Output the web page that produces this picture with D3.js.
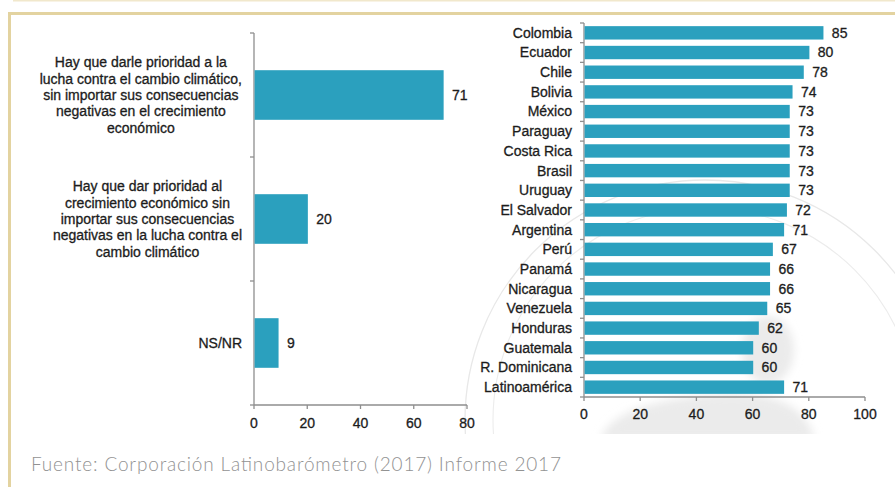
<!DOCTYPE html>
<html>
<head>
<meta charset="utf-8">
<script src="https://cdn.jsdelivr.net/npm/d3@7"></script>
<style>
  html, body { margin: 0; padding: 0; background: #ffffff; }
  svg { display: block; }
  .lbl { font-family: "Liberation Sans", Arial, sans-serif; font-size: 14px; fill: #1c1c1c;
         stroke: #1c1c1c; stroke-width: 0.3px; }
  .src { font-family: Lato, "Open Sans", sans-serif; font-weight: 300; font-size: 19px; fill: #929292; }
</style>
</head>
<body>
<svg id="chart" width="895" height="487"></svg>
<script>
// Opinion question: priority between climate action and economic growth (%)
const opinionLabels = [
  ["Hay que darle prioridad a la", "lucha contra el cambio climático,", "sin importar sus consecuencias", "negativas en el crecimiento", "económico"],
  ["Hay que dar prioridad al", "crecimiento económico sin", "importar sus consecuencias", "negativas en la lucha contra el", "cambio climático"],
  ["NS/NR"]
];
const opinionValues = [71, 20, 9];
const opinionTicks = [0, 20, 40, 60, 80];

// Share prioritising climate action, by country (%)
const countries = ["Colombia", "Ecuador", "Chile", "Bolivia", "México", "Paraguay", "Costa Rica", "Brasil",
  "Uruguay", "El Salvador", "Argentina", "Perú", "Panamá", "Nicaragua", "Venezuela", "Honduras",
  "Guatemala", "R. Dominicana", "Latinoamérica"];
const countryValues = [85, 80, 78, 74, 73, 73, 73, 73, 73, 72, 71, 67, 66, 66, 65, 62, 60, 60, 71];
const countryTicks = [0, 20, 40, 60, 80, 100];

const sourceNote = "Fuente: Corporación Latinobarómetro (2017) Informe 2017";

const BAR = "#2ba0be";
const AXIS = "#8e8e8e";
const FRAME = "#e3d3a0";

const svg = d3.select("#chart");

// Page frame
svg.append("line").attr("x1", 13).attr("x2", 895).attr("y1", 0.8).attr("y2", 0.8)
  .attr("stroke", "#f1e8cc").attr("stroke-width", 1.6);
svg.append("path").attr("d", "M9.5,487 V13.5 H895")
  .attr("fill", "none").attr("stroke", FRAME).attr("stroke-width", 3);

// Faint seal in the background of the country panel
const defs = svg.append("defs");
defs.append("clipPath").attr("id", "sealClip")
  .append("rect").attr("x", 455).attr("y", 16).attr("width", 440).attr("height", 418);
defs.append("filter").attr("id", "soft").append("feGaussianBlur").attr("stdDeviation", 4);
const seal = svg.append("g").attr("clip-path", "url(#sealClip)");
seal.append("circle").attr("cx", 705).attr("cy", 420).attr("r", 240)
  .attr("fill", "none").attr("stroke", "#e8e8e8").attr("stroke-width", 1.3);
seal.append("circle").attr("cx", 705).attr("cy", 420).attr("r", 212)
  .attr("fill", "none").attr("stroke", "#ececec").attr("stroke-width", 1.1);
const bust = seal.append("g").attr("filter", "url(#soft)").attr("fill", "#ebebeb");
bust.append("ellipse").attr("cx", 768).attr("cy", 350).attr("rx", 26).attr("ry", 34);
bust.append("path").attr("d", "M600,440 C610,410 660,398 720,394 C770,392 805,402 815,440 Z");

// ---------- Left panel ----------
const xL = d3.scaleLinear().domain([0, 80]).range([254, 467]);
const yL = d3.scaleBand().domain(d3.range(opinionValues.length)).range([33, 405])
  .paddingInner(0.6).paddingOuter(0.3);

const gL = svg.append("g");

// axis lines and ticks
const axL = gL.append("g").attr("stroke", AXIS).attr("stroke-width", 1.3);
axL.append("line").attr("x1", xL(0)).attr("x2", xL(0)).attr("y1", yL.range()[0]).attr("y2", yL.range()[1]);
d3.range(opinionValues.length + 1).forEach(i => {
  const yy = yL.range()[0] + i * yL.step();
  axL.append("line").attr("x1", xL(0) - 4).attr("x2", xL(0)).attr("y1", yy).attr("y2", yy);
});
axL.append("line").attr("x1", xL(0)).attr("x2", xL(80)).attr("y1", yL.range()[1]).attr("y2", yL.range()[1]);
opinionTicks.forEach(t => {
  axL.append("line").attr("x1", xL(t)).attr("x2", xL(t)).attr("y1", yL.range()[1]).attr("y2", yL.range()[1] + 4);
});
gL.selectAll("text.tick").data(opinionTicks).join("text")
  .attr("class", "lbl").attr("x", d => xL(d)).attr("y", yL.range()[1] + 18)
  .attr("dy", "0.35em").attr("text-anchor", "middle").text(d => d);

// bars
gL.selectAll("rect.bar").data(opinionValues).join("rect")
  .attr("x", xL(0) + 0.6).attr("y", (d, i) => yL(i))
  .attr("width", d => xL(d) - xL(0)).attr("height", yL.bandwidth())
  .attr("fill", BAR);
gL.selectAll("text.val").data(opinionValues).join("text")
  .attr("class", "lbl").attr("x", d => xL(d) + 9).attr("y", (d, i) => yL(i) + yL.bandwidth() / 2)
  .attr("dy", "0.35em").text(d => d);

// multi-line category labels, centred as blocks left of the axis
const lineH = 16.3;
opinionLabels.forEach((lines, i) => {
  const cy = yL(i) + yL.bandwidth() / 2;
  const t = gL.append("text").attr("class", "lbl").attr("text-anchor", "middle");
  lines.forEach((ln, k) => {
    t.append("tspan").attr("y", cy + (k - (lines.length - 1) / 2) * lineH).attr("dy", "0.35em").text(ln);
  });
  const w = d3.max(t.selectAll("tspan").nodes(), n => n.getComputedTextLength());
  t.selectAll("tspan").attr("x", xL(0) - 12 - w / 2);
});

// ---------- Right panel ----------
const xR = d3.scaleLinear().domain([0, 100]).range([584, 865]);
const yR = d3.scaleBand().domain(countries).range([23, 397])
  .paddingInner(0.32).paddingOuter(0.16);

const gR = svg.append("g");
const axR = gR.append("g").attr("stroke", AXIS).attr("stroke-width", 1.3);
axR.append("line").attr("x1", xR(0)).attr("x2", xR(0)).attr("y1", yR.range()[0]).attr("y2", yR.range()[1]);
d3.range(countries.length + 1).forEach(i => {
  const yy = yR.range()[0] + i * yR.step();
  axR.append("line").attr("x1", xR(0) - 4).attr("x2", xR(0)).attr("y1", yy).attr("y2", yy);
});
axR.append("line").attr("x1", xR(0)).attr("x2", xR(100)).attr("y1", yR.range()[1]).attr("y2", yR.range()[1]);
countryTicks.forEach(t => {
  axR.append("line").attr("x1", xR(t)).attr("x2", xR(t)).attr("y1", yR.range()[1]).attr("y2", yR.range()[1] + 4);
});
gR.selectAll("text.tick").data(countryTicks).join("text")
  .attr("class", "lbl").attr("x", d => xR(d)).attr("y", yR.range()[1] + 17)
  .attr("dy", "0.35em").attr("text-anchor", "middle").text(d => d);

gR.selectAll("rect.bar").data(countryValues).join("rect")
  .attr("x", xR(0) + 0.6).attr("y", (d, i) => yR(countries[i]))
  .attr("width", d => xR(d) - xR(0)).attr("height", yR.bandwidth())
  .attr("fill", BAR);
gR.selectAll("text.val").data(countryValues).join("text")
  .attr("class", "lbl").attr("x", d => xR(d) + 9)
  .attr("y", (d, i) => yR(countries[i]) + yR.bandwidth() / 2)
  .attr("dy", "0.35em").text(d => d);
gR.selectAll("text.cat").data(countries).join("text")
  .attr("class", "lbl").attr("x", xR(0) - 12)
  .attr("y", d => yR(d) + yR.bandwidth() / 2)
  .attr("dy", "0.35em").attr("text-anchor", "end").text(d => d);

// Source note
svg.append("text").attr("class", "src").attr("x", 31).attr("y", 471)
  .attr("textLength", 530).attr("lengthAdjust", "spacing").text(sourceNote);
</script>
</body>
</html>
